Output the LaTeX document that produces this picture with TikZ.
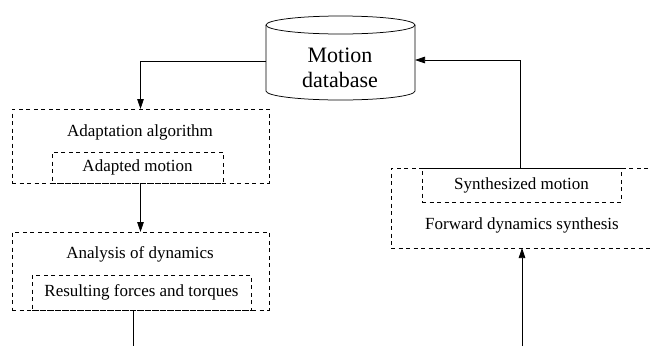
\documentclass[tikz,border=0pt]{standalone}
\usepackage{fontspec}
\setmainfont{Liberation Serif}
\newfontfamily\timesfam{Liberation Serif}
\usetikzlibrary{arrows.meta}
\begin{document}
\begin{tikzpicture}[x=1pt,y=1pt,
  every node/.style={inner sep=0pt,outer sep=0pt},
  lbl/.style={font=\timesfam\fontsize{17}{20}\selectfont},
  dbox/.style={draw,dash pattern=on 4pt off 3.5pt,line width=0.75pt},
  conn/.style={line width=0.75pt},
  tip/.style={-{Triangle[length=10pt,width=6.5pt]}}]
\useasboundingbox (0,0) rectangle (650,-346);

% database cylinder
\node (db) [minimum width=149pt,minimum height=84pt] at (340.5,-58) {};
\draw[line width=0.75pt] ([yshift=-9pt]db.north) ellipse [x radius=74.5pt,y radius=9pt];
\draw[line width=0.75pt] ([yshift=-9pt]db.north west) -- ([yshift=9pt]db.south west)
  arc [start angle=180,end angle=360,x radius=74.5pt,y radius=9pt]
  -- ([yshift=-9pt]db.north east);
\node (dbtext) [align=center,font=\timesfam\fontsize{22}{25}\selectfont] at (340,-68) {Motion\\database};

% adaptation stage
\node (adapt) [dbox,minimum width=257pt,minimum height=74pt] at (140.5,-146) {};
\node (adapttext) [lbl] at (140,-132) {Adaptation algorithm};
\node (adapted) [dbox,minimum width=171pt,minimum height=31pt,lbl] at (137.5,-167.5) {Adapted motion};

% analysis stage
\node (anal) [dbox,minimum width=257pt,minimum height=78pt] at (140.5,-271) {};
\node (analtext) [lbl] at (140,-254) {Analysis of dynamics};
\node (forces) [dbox,minimum width=219pt,minimum height=35pt,lbl] at (141.5,-292.5) {Resulting forces and torques};

% synthesis stage
\node (synth) [dbox,minimum width=261pt,minimum height=80pt] at (521.5,-208) {};
\node (synthesized) [dbox,minimum width=199pt,minimum height=34pt,lbl] at (521.5,-185) {Synthesized motion};
\node (synthtext) [lbl] at (522,-225) {Forward dynamics synthesis};

% loose ends at the bottom
\coordinate (outA) at (133,-346);
\coordinate (inB) at (522,-346);
\coordinate (up) at (520,-60);

% connectors
\draw[conn,tip] ([yshift=-3pt]db.west) -| (adapt.north);
\draw[conn,tip] (adapt.south) -- (anal.north);
\draw[conn] (anal.south -| outA) -- (outA);
\draw[conn,tip] (synth.north -| up) -- (up) -- ([yshift=-2pt]db.east);
\draw[conn,tip] (inB) -- (synth.south -| inB);
\end{tikzpicture}
\end{document}
